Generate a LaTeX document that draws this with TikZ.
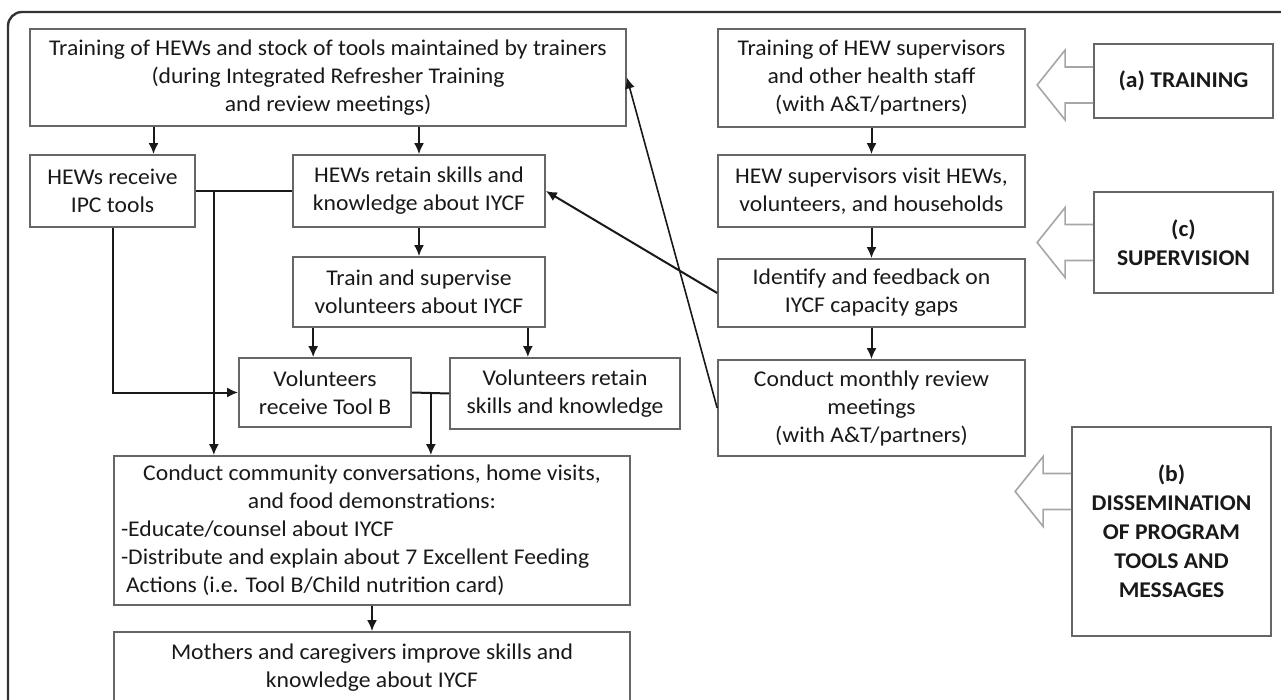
\documentclass[tikz,border=0pt]{standalone}
\usepackage{fontspec}
\setmainfont{Carlito}[FakeStretch=1.05]
\usepackage{tikz}
\usetikzlibrary{arrows.meta,calc}
\colorlet{boxgray}{black!60}
\colorlet{hollowgray}{black!35}
\colorlet{inkblack}{black!90}
\colorlet{framegray}{black!80}
\tikzset{
  >=latex,
  connect/.style={line width=2,inkblack},
  connect arrow/.style={-{Latex[length=11,width=10]},line width=2,inkblack}
}

\begin{document}
\begin{tikzpicture}[x=1pt, y=-1pt]

% Styles
\tikzstyle{flow} = [draw=boxgray, line width=1.7, inner sep=0pt, align=center, text=inkblack, font=\fontsize{22.5}{28}\selectfont]
\tikzstyle{label box} = [flow, font=\bfseries\fontsize{22.5}{29}\selectfont]
\tikzstyle{hollow} = [draw=hollowgray, line width=1.6, line join=miter]

\useasboundingbox (0,0) rectangle (1281,700);
\clip (0,0) rectangle (1281,700);

% Cadre
\draw[framegray, line width=2.4, rounded corners=14] (8,720) -- (8,12) -- (1300,12);

% Colonne de gauche
\node[flow, minimum width=596, minimum height=97] (T1) at (328,77.5)
  {Training of HEWs and stock of tools maintained by trainers\\ (during Integrated Refresher Training\\ and review meetings)};
\node[flow, minimum width=165, minimum height=72] (IPC) at (112.5,191) {HEWs receive\\ IPC tools};
\node[flow, minimum width=252, minimum height=72] (Retain) at (419,191) {HEWs retain skills and\\ knowledge about IYCF};
\node[flow, minimum width=252, minimum height=70] (Train) at (419,292) {Train and supervise\\ volunteers about IYCF};
\node[flow, minimum width=172, minimum height=69] (VolRec) at (325,392.5) {Volunteers\\ receive Tool B};
\node[flow, minimum width=230, minimum height=71] (VolRet) at (565,393.5) {Volunteers retain\\ skills and knowledge};
\node[flow, minimum width=516, minimum height=149] (Conduct) at (372,530.5)
  {Conduct community conversations, home visits,\\ and food demonstrations:\\
   \makebox[502pt][l]{-Educate/counsel about IYCF}\\
   \makebox[502pt][l]{-Distribute and explain about 7 Excellent Feeding}\\
   \makebox[502pt][l]{\hspace{5pt}Actions (i.e. Tool B/Child nutrition card)}};
\node[flow, minimum width=516, minimum height=72] (Mothers) at (372,668)
  {Mothers and caregivers improve skills and\\ knowledge about IYCF};

% Colonne de droite
\node[flow, minimum width=307, minimum height=98] (SupTrain) at (871.5,78)
  {Training of HEW supervisors\\ and other health staff\\ (with A\&T/partners)};
\node[flow, minimum width=307, minimum height=72] (Visit) at (871.5,191)
  {HEW supervisors visit HEWs,\\ volunteers, and households};
\node[flow, minimum width=307, minimum height=68] (Identify) at (871.5,293)
  {Identify and feedback on\\ IYCF capacity gaps};
\node[flow, minimum width=307, minimum height=96] (Monthly) at (871.5,408)
  {Conduct monthly review\\ meetings\\ (with A\&T/partners)};

% Composantes
\node[label box, minimum width=179, minimum height=74] (La) at (1183.5,81) {(a) TRAINING};
\node[label box, minimum width=179, minimum height=101] (Lc) at (1183.5,242.5) {(c)\\ SUPERVISION};
\node[label box, minimum width=199, minimum height=209] (Lb) at (1171.5,531.5)
  {(b)\\ DISSEMINATION\\ OF PROGRAM\\ TOOLS AND\\ MESSAGES};

% Fleches creuses
\foreach \lab/\dy in {La/4, Lc/0, Lb/-40}
  \draw[hollow] ($(\lab.west)+(0,\dy-18)$) -- ++(-28,0) -- ++(0,-17) -- ++(-28,35)
    -- ++(28,35) -- ++(0,-17) -- ++(28,0);

% Points de jonction
\coordinate (d1) at ($(IPC.north)+(41,0)$);
\coordinate (j1) at ($(IPC.east)+(18,0)$);
\coordinate (j2) at ($(VolRec.east)+(19,0)$);
\coordinate (t1) at ($(Train.south west)+(21,0)$);
\coordinate (t2) at ($(Train.south east)+(-18,0)$);

% Connexions gauche
\draw[connect arrow] (d1 |- T1.south) -- (d1);
\draw[connect arrow] (Retain.north |- T1.south) -- (Retain.north);
\draw[connect] (IPC.east) -- (Retain.west);
\draw[connect arrow] (j1) -- (j1 |- Conduct.north);
\draw[connect arrow] (IPC.south) |- (VolRec.west);
\draw[connect arrow] (Retain.south) -- (Train.north);
\draw[connect arrow] (t1) -- (t1 |- VolRec.north);
\draw[connect arrow] (t2) -- (t2 |- VolRet.north);
\draw[connect] (VolRec.east) -- (VolRet.west);
\draw[connect arrow] (j2) -- (j2 |- Conduct.north);
\draw[connect arrow] (Conduct.south) -- (Mothers.north);

% Connexions droite
\foreach \a/\b in {SupTrain/Visit, Visit/Identify, Identify/Monthly}
  \draw[connect arrow] (\a.south) -- (\b.north);

% Retours
\draw[connect arrow] (Identify.west) -- (Retain.east);
\draw[connect arrow, line width=1.6] (Monthly.west) -- (T1.east);

\end{tikzpicture}
\end{document}
